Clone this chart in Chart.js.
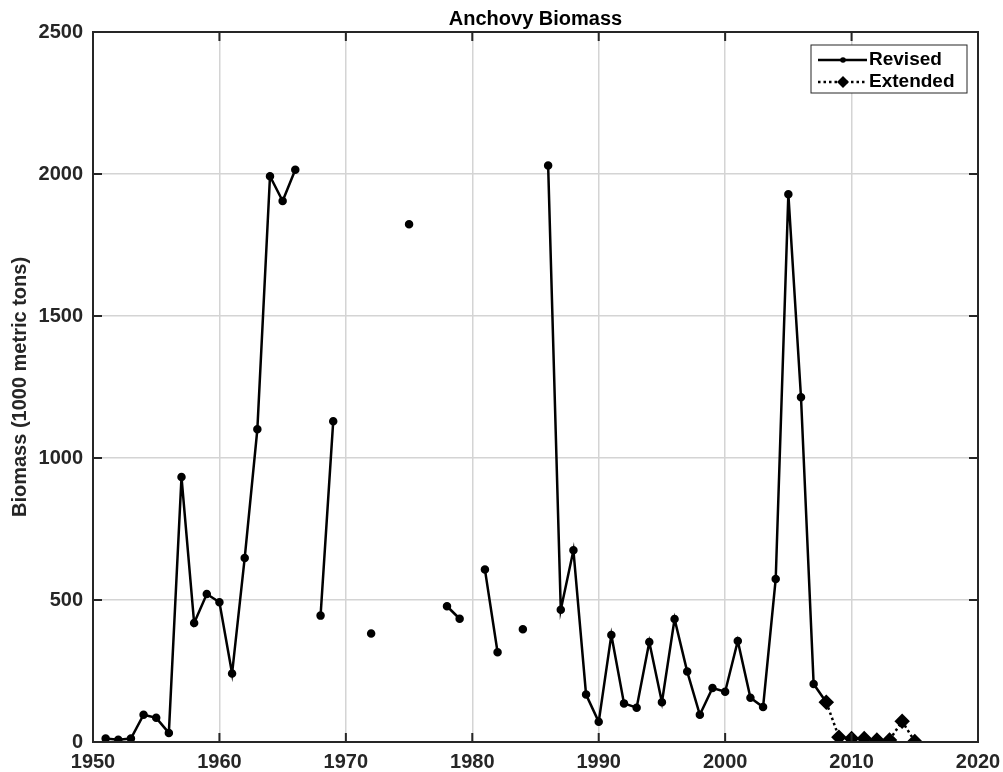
<!DOCTYPE html>
<html>
<head>
<meta charset="utf-8">
<script src="https://cdn.jsdelivr.net/npm/chart.js@4"></script>
<style>
  html, body { margin: 0; padding: 0; background: #fff; }
  #wrap { width: 1003px; height: 772px; }
</style>
</head>
<body>
<div id="wrap"><canvas id="chart" width="1003" height="772"></canvas></div>
<script>
// years 1951..2015, null = no data
const years = [];
for (let y = 1951; y <= 2015; y++) years.push(y);

const revisedValues = [
  12, 8, 12, 96, 85, 32, 933, 419, 521, 492,          // 1951-1960
  241, 648, 1101, 1992, 1905, 2015, null, 445, 1129, null, // 1961-1970
  null, 382, null, null, 1823, null, null, 478, 434, null, // 1971-1980
  607, 316, null, 397, null, 2030, 466, 675, 167, 71,   // 1981-1990
  377, 136, 121, 352, 140, 433, 248, 96, 190, 177,      // 1991-2000
  356, 156, 123, 574, 1929, 1214, 204, 140, null, null, // 2001-2010
  null, null, null, null, null                          // 2011-2015
];

const extendedYears = [2008, 2009, 2010, 2011, 2012, 2013, 2014, 2015];
const extendedValues = [140, 17, 12, 12, 7, 7, 73, 2];

const xTicks = [1950, 1960, 1970, 1980, 1990, 2000, 2010, 2020];
const yTicks = [0, 500, 1000, 1500, 2000, 2500];

const FONT = '"Liberation Sans", Arial, Helvetica, sans-serif';
const AXIS_COLOR = '#262626';

// box, inward ticks, title, legend
const decor = {
  id: 'decor',
  afterDraw(chart) {
    const { ctx, chartArea: a, scales } = chart;
    ctx.save();
    ctx.strokeStyle = AXIS_COLOR;
    ctx.lineWidth = 2;
    ctx.strokeRect(a.left, a.top, a.right - a.left, a.bottom - a.top);

    const tl = 9;
    ctx.beginPath();
    xTicks.forEach(v => {
      const x = scales.x.getPixelForValue(v);
      ctx.moveTo(x, a.bottom); ctx.lineTo(x, a.bottom - tl);
      ctx.moveTo(x, a.top); ctx.lineTo(x, a.top + tl);
    });
    yTicks.forEach(v => {
      const y = scales.y.getPixelForValue(v);
      ctx.moveTo(a.left, y); ctx.lineTo(a.left + tl, y);
      ctx.moveTo(a.right, y); ctx.lineTo(a.right - tl, y);
    });
    ctx.stroke();

    // title
    ctx.fillStyle = '#000';
    ctx.font = 'bold 20px ' + FONT;
    ctx.textAlign = 'center';
    ctx.textBaseline = 'alphabetic';
    ctx.fillText('Anchovy Biomass', (a.left + a.right) / 2, 25);

    // legend
    const lx = 811, ly = 45, lw = 156, lh = 48;
    ctx.fillStyle = '#fff';
    ctx.fillRect(lx, ly, lw, lh);
    ctx.strokeStyle = AXIS_COLOR;
    ctx.lineWidth = 1;
    ctx.strokeRect(lx, ly, lw, lh);

    ctx.strokeStyle = '#000';
    ctx.fillStyle = '#000';
    ctx.lineWidth = 2.5;
    const r1 = 60, r2 = 82;
    ctx.beginPath();
    ctx.moveTo(818, r1); ctx.lineTo(867, r1);
    ctx.stroke();
    ctx.beginPath();
    ctx.arc(843, r1, 2.8, 0, Math.PI * 2);
    ctx.fill();

    ctx.setLineDash([2.5, 3]);
    ctx.beginPath();
    ctx.moveTo(818, r2); ctx.lineTo(867, r2);
    ctx.stroke();
    ctx.setLineDash([]);
    ctx.beginPath();
    ctx.moveTo(843, r2 - 6); ctx.lineTo(849, r2);
    ctx.lineTo(843, r2 + 6); ctx.lineTo(837, r2);
    ctx.closePath();
    ctx.fill();

    ctx.font = 'bold 19px ' + FONT;
    ctx.textAlign = 'left';
    ctx.textBaseline = 'middle';
    ctx.fillText('Revised', 869, r1);
    ctx.fillText('Extended', 869, r2);
    ctx.restore();
  }
};

new Chart(document.getElementById('chart'), {
  type: 'line',
  data: {
    datasets: [
      {
        label: 'Revised',
        data: years.map((y, i) => ({ x: y, y: revisedValues[i] })),
        borderColor: '#000',
        backgroundColor: '#000',
        borderWidth: 2.5,
        pointRadius: 3,
        pointStyle: 'circle',
        spanGaps: false,
        tension: 0
      },
      {
        label: 'Extended',
        data: extendedYears.map((y, i) => ({ x: y, y: extendedValues[i] })),
        borderColor: '#000',
        backgroundColor: '#000',
        borderWidth: 2.5,
        borderDash: [2.5, 3],
        pointRadius: 6,
        pointStyle: 'rectRot',
        tension: 0
      }
    ]
  },
  options: {
    responsive: false,
    animation: false,
    layout: { padding: { top: 32, right: 25, left: 0, bottom: 0 } },
    plugins: {
      legend: { display: false },
      title: { display: false },
      tooltip: { enabled: false }
    },
    scales: {
      x: {
        type: 'linear',
        min: 1950,
        max: 2020,
        afterBuildTicks: s => { s.ticks = xTicks.map(v => ({ value: v })); },
        afterFit: s => { s.height = 30; s.paddingLeft = 0; s.paddingRight = 0; },
        grid: { color: '#d4d4d4', lineWidth: 1.5, drawTicks: false },
        border: { display: false },
        ticks: {
          color: AXIS_COLOR,
          padding: 8,
          maxRotation: 0,
          font: { family: FONT, size: 20, weight: 'bold' },
          callback: v => String(v)
        }
      },
      y: {
        min: 0,
        max: 2500,
        afterBuildTicks: s => { s.ticks = yTicks.map(v => ({ value: v })); },
        afterFit: s => { s.width = 93; s.paddingTop = 0; s.paddingBottom = 0; },
        grid: { color: '#d4d4d4', lineWidth: 1.5, drawTicks: false },
        border: { display: false },
        title: {
          display: true,
          text: 'Biomass (1000 metric tons)',
          color: AXIS_COLOR,
          padding: { top: 8, bottom: 0 },
          font: { family: FONT, size: 20, weight: 'bold' }
        },
        ticks: {
          color: AXIS_COLOR,
          padding: 10,
          font: { family: FONT, size: 20, weight: 'bold' },
          callback: v => String(v)
        }
      }
    }
  },
  plugins: [decor]
});
</script>
</body>
</html>
